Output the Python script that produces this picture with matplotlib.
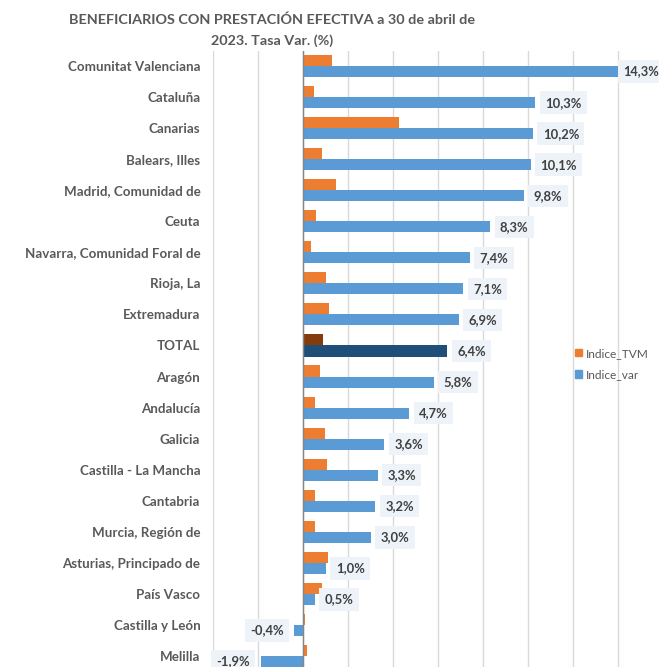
import matplotlib
matplotlib.use("Agg")
import matplotlib.pyplot as plt
from matplotlib.patches import Patch

categories = ["Comunitat Valenciana", "Cataluña", "Canarias", "Balears, Illes",
              "Madrid, Comunidad de", "Ceuta", "Navarra, Comunidad Foral de",
              "Rioja, La", "Extremadura", "TOTAL", "Aragón", "Andalucía", "Galicia",
              "Castilla - La Mancha", "Cantabria", "Murcia, Región de",
              "Asturias, Principado de", "País Vasco", "Castilla y León", "Melilla"]
indice_var = [14.3, 10.3, 10.2, 10.1, 9.8, 8.3, 7.4, 7.1, 6.9, 6.4, 5.8, 4.7,
              3.6, 3.3, 3.2, 3.0, 1.0, 0.5, -0.4, -1.9]
indice_tvm = [1.27, 0.48, 4.26, 0.82, 1.45, 0.55, 0.33, 1.01, 1.12, 0.88, 0.73,
              0.52, 0.95, 1.04, 0.52, 0.52, 1.09, 0.83, 0.07, 0.15]
series_names = ["Indice_TVM", "Indice_var"]
title = "BENEFICIARIOS CON PRESTACIÓN EFECTIVA a 30 de abril de\n2023. Tasa Var. (%)"

FONT = ["Lato", "DejaVu Sans"]
plt.rcParams['font.family'] = FONT

W, H = 659, 667
fig = plt.figure(figsize=(W / 100, H / 100), dpi=100)
left_px, right_px = 213.5, 663.5
top_px, bottom_px = 50.5, 671.5
ax = fig.add_axes([left_px / W, 1 - bottom_px / H, (right_px - left_px) / W,
                   (bottom_px - top_px) / H])

orange, blue = "#ED7D31", "#5B9BD5"
orange_d, blue_d = "#843C0C", "#1F4E79"
n = len(categories)
ys = list(range(n))
h = 0.355
off = 0.178
oc = [orange_d if c == "TOTAL" else orange for c in categories]
bc = [blue_d if c == "TOTAL" else blue for c in categories]
ax.barh([y - off for y in ys], indice_tvm, height=h, color=oc, zorder=3)
ax.barh([y + off for y in ys], indice_var, height=h, color=bc, zorder=3)

ax.set_xlim(-4, 16)
ax.set_ylim(n - 0.5, -0.5)
ax.set_xticks(range(-4, 17, 2))
ax.tick_params(axis='x', length=0, labelbottom=False)
ax.grid(axis='x', color="#D9D9D9", linewidth=1.0, zorder=0)
for s in ax.spines.values():
    s.set_visible(False)
ax.axvline(0, color="#868686", linewidth=1.0, zorder=4)

ax.set_yticks(ys)
ax.set_yticklabels(categories, fontsize=9.6, fontweight='bold', color="#595959")
ax.tick_params(axis='y', length=0, pad=9.5)

for y, v in zip(ys, indice_var):
    txt = f"{v:.1f}%".replace(".", ",")
    if v >= 0:
        dx = -1.5 if v > 14 else 7
        ha = 'left'
    else:
        dx = -8
        ha = 'right'
    ax.annotate(txt, xy=(v, y + off), xytext=(dx, 0), textcoords='offset points',
                ha=ha, va='center', fontsize=9.2 if v > 14 else 9.4,
                fontweight='bold', color="#404040",
                bbox=dict(boxstyle='square,pad=0.4', facecolor="#EEF3F9",
                          edgecolor='none'), zorder=5, annotation_clip=False)

fig.text(272 / W, 1 - 30 / H, title, ha='center', va='center', fontsize=10.4,
         fontweight='bold', color="#595959", linespacing=1.75)

handles = [Patch(color=orange), Patch(color=blue)]
leg = fig.legend(handles, series_names, loc='upper left',
                 bbox_to_anchor=(570 / W, 1 - 343 / H), frameon=False,
                 handlelength=0.6, handleheight=0.6, handletextpad=0.3,
                 labelspacing=0.85, fontsize=8.6, borderaxespad=0)
for t in leg.get_texts():
    t.set_color("#595959")

fig.savefig("out.png", dpi=100)
